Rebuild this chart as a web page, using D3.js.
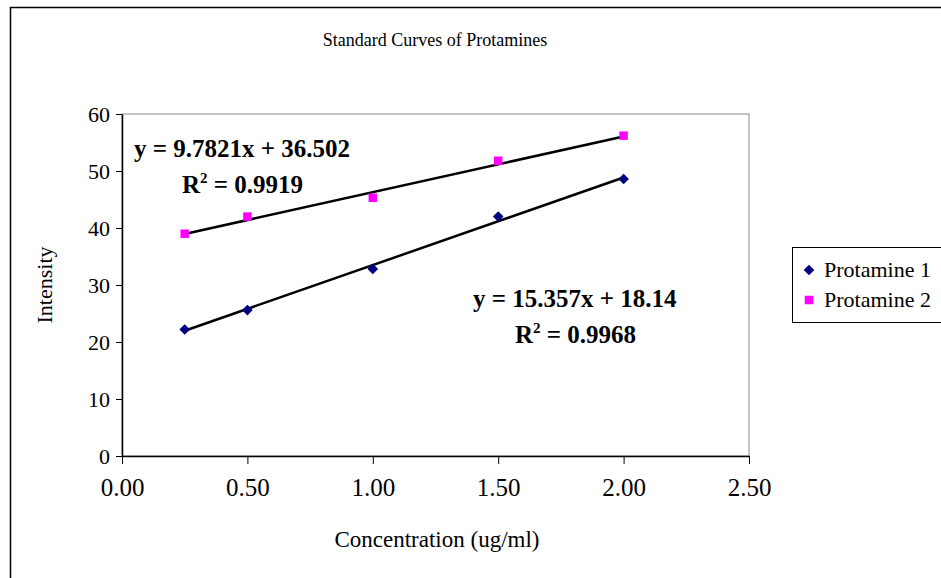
<!DOCTYPE html>
<html>
<head>
<meta charset="utf-8">
<script src="https://cdn.jsdelivr.net/npm/d3@7"></script>
<style>
body { margin: 0; background: #fff; }
svg text { font-family: "Liberation Serif", "Times New Roman", serif; fill: #000; }
.axis path, .axis line { stroke: #000; }
.eq { font-weight: bold; font-size: 25px; }
</style>
</head>
<body>
<script>
// values
var xs = [0.25, 0.5, 1.0, 1.5, 2.0];
var protamine1 = [22.2, 25.6, 32.8, 42.0, 48.6];
var protamine2 = [39.0, 42.0, 45.3, 51.8, 56.2];
var fit1 = {slope: 15.357, intercept: 18.14, r2: "0.9968"};
var fit2 = {slope: 9.7821, intercept: 36.502, r2: "0.9919"};
var xTicks = [0, 0.5, 1, 1.5, 2, 2.5];
var yTicks = [0, 10, 20, 30, 40, 50, 60];

var W = 941, H = 578;
var pLeft = 122, pRight = 749, pTop = 114, pBottom = 456;

var x = d3.scaleLinear().domain([0, 2.5]).range([pLeft, pRight]);
var y = d3.scaleLinear().domain([0, 60]).range([pBottom, pTop]);

var svg = d3.select("body").append("svg")
    .attr("width", W)
    .attr("height", H);

// outer chart frame (runs off the right/bottom edge)
svg.append("rect")
    .attr("x", 10.5).attr("y", 7.5)
    .attr("width", 940).attr("height", 580)
    .attr("fill", "none").attr("stroke", "#000").attr("stroke-width", 1.5);

// plot area frame
svg.append("rect")
    .attr("x", pLeft).attr("y", pTop)
    .attr("width", pRight - pLeft).attr("height", pBottom - pTop)
    .attr("fill", "none").attr("stroke", "#888").attr("stroke-width", 1);

svg.append("text")
    .attr("x", 435).attr("y", 46)
    .attr("text-anchor", "middle")
    .style("font-size", "18px")
    .text("Standard Curves of Protamines");

// axes
svg.append("g")
    .attr("class", "axis")
    .attr("transform", "translate(0," + pBottom + ")")
    .call(d3.axisBottom(x).tickValues(xTicks).tickFormat(d3.format(".2f")).tickSize(8).tickSizeOuter(0).tickPadding(14))
    .call(function(g) { g.selectAll("text").style("font-size", "25px"); })
    .call(function(g) { g.select(".domain").attr("stroke-width", 1.5); });

svg.append("g")
    .attr("class", "axis")
    .attr("transform", "translate(" + pLeft + ",0)")
    .call(d3.axisLeft(y).tickValues(yTicks).tickSize(6).tickSizeOuter(0).tickPadding(6))
    .call(function(g) { g.selectAll("text").style("font-size", "22px"); })
    .call(function(g) { g.select(".domain").attr("stroke-width", 1.5); });

svg.append("text")
    .attr("transform", "translate(52," + ((pTop + pBottom) / 2) + ") rotate(-90)")
    .attr("text-anchor", "middle")
    .style("font-size", "22px")
    .text("Intensity");

svg.append("text")
    .attr("x", 437).attr("y", 547)
    .attr("text-anchor", "middle")
    .style("font-size", "23px")
    .text("Concentration (ug/ml)");

// trendlines
[fit1, fit2].forEach(function(f) {
  var x0 = d3.min(xs), x1 = d3.max(xs);
  svg.append("line")
      .attr("x1", x(x0)).attr("y1", y(f.slope * x0 + f.intercept))
      .attr("x2", x(x1)).attr("y2", y(f.slope * x1 + f.intercept))
      .attr("stroke", "#000").attr("stroke-width", 2.5);
});

var diamond = d3.symbol().type(d3.symbolDiamond2).size(72);
var square = d3.symbol().type(d3.symbolSquare).size(72);

svg.selectAll("path.p1")
    .data(xs.map(function(d, i) { return [d, protamine1[i]]; }))
  .enter().append("path")
    .attr("class", "p1")
    .attr("d", diamond)
    .attr("transform", function(d) { return "translate(" + x(d[0]) + "," + y(d[1]) + ")"; })
    .attr("fill", "#000080");

svg.selectAll("path.p2")
    .data(xs.map(function(d, i) { return [d, protamine2[i]]; }))
  .enter().append("path")
    .attr("class", "p2")
    .attr("d", square)
    .attr("transform", function(d) { return "translate(" + x(d[0]) + "," + y(d[1]) + ")"; })
    .attr("fill", "#ff00ff");

// equation labels
function eq(f, ex, ey, rx, ry) {
  svg.append("text").attr("class", "eq").attr("x", ex).attr("y", ey)
      .text("y = " + f.slope + "x + " + f.intercept);
  var t = svg.append("text").attr("class", "eq").attr("x", rx).attr("y", ry);
  t.append("tspan").text("R");
  t.append("tspan").attr("dy", -10).style("font-size", "15px").text("2");
  t.append("tspan").attr("dy", 10).text(" = " + f.r2);
}
eq(fit2, 134, 157, 182, 193);
eq(fit1, 473, 307, 515, 343);

// legend
var lg = svg.append("g").attr("transform", "translate(792,247)");
lg.append("rect")
    .attr("x", 0.5).attr("y", 0.5).attr("width", 160).attr("height", 75)
    .attr("fill", "#fff").attr("stroke", "#000");
lg.append("path").attr("d", diamond).attr("transform", "translate(17,23)").attr("fill", "#000080");
lg.append("path").attr("d", square).attr("transform", "translate(17,53)").attr("fill", "#ff00ff");
lg.append("text").attr("x", 32).attr("y", 30).style("font-size", "22px").text("Protamine 1");
lg.append("text").attr("x", 32).attr("y", 60).style("font-size", "22px").text("Protamine 2");
</script>
</body>
</html>
